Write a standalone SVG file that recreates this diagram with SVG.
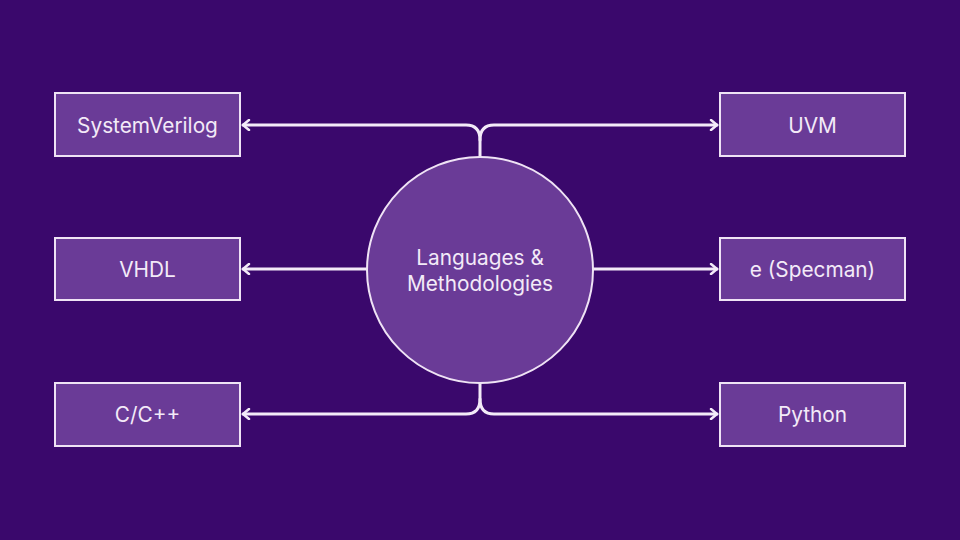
<svg xmlns="http://www.w3.org/2000/svg" width="960" height="540" viewBox="0 0 960 540">
<style>
.box{fill:#6a3b97;stroke:#efe3f5;stroke-width:2}
.lbl{font-family:Inter,"Open Sans",sans-serif;font-size:20.8px;fill:#f3eaf8;text-anchor:middle;dominant-baseline:central}
.conn{fill:none;stroke:#f3eaf8;stroke-width:3;stroke-linecap:round;stroke-linejoin:round}
</style>
<defs>
<marker id="ah" markerWidth="10" markerHeight="12" refX="8" refY="6" orient="auto-start-reverse" markerUnits="userSpaceOnUse">
<path d="M2,1 L8,6 L2,11" fill="none" stroke="#f3eaf8" stroke-width="2.5" stroke-linecap="round" stroke-linejoin="round"/>
</marker>
</defs>
<rect width="960" height="540" fill="#3a086c"/>
<g id="connectors">
<path class="conn" d="M480,157 V140 Q480,125 466,125 H243" marker-end="url(#ah)"/>
<path class="conn" d="M480,140 Q480,125 494,125 H717" marker-end="url(#ah)"/>
<path class="conn" d="M367,269 H243" marker-end="url(#ah)"/>
<path class="conn" d="M593,269 H717" marker-end="url(#ah)"/>
<path class="conn" d="M480,383 V399 Q480,414 466,414 H243" marker-end="url(#ah)"/>
<path class="conn" d="M480,399 Q480,414 494,414 H717" marker-end="url(#ah)"/>
</g>
<g id="center">
<circle cx="480" cy="270" r="113" fill="#6a3b97" stroke="#efe3f5" stroke-width="2"/>
<text class="lbl" x="480" y="257">Languages &amp;</text>
<text class="lbl" x="480" y="283">Methodologies</text>
</g>
<g id="systemverilog"><rect class="box" x="55" y="93" width="185" height="63"/><text class="lbl" x="147.5" y="125">SystemVerilog</text></g>
<g id="vhdl"><rect class="box" x="55" y="238" width="185" height="62"/><text class="lbl" x="147.5" y="269">VHDL</text></g>
<g id="cpp"><rect class="box" x="55" y="383" width="185" height="63"/><text class="lbl" x="147.5" y="414">C/C++</text></g>
<g id="uvm"><rect class="box" x="720" y="93" width="185" height="63"/><text class="lbl" x="812.5" y="125">UVM</text></g>
<g id="specman"><rect class="box" x="720" y="238" width="185" height="62"/><text class="lbl" x="812.5" y="269">e (Specman)</text></g>
<g id="python"><rect class="box" x="720" y="383" width="185" height="63"/><text class="lbl" x="812.5" y="414">Python</text></g>
</svg>
